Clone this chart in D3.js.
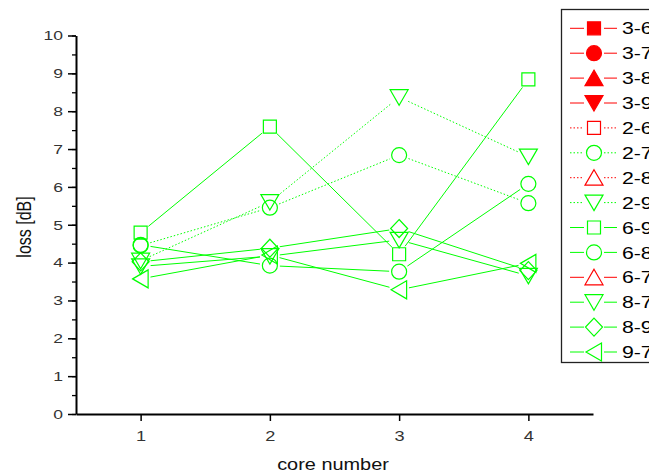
<!DOCTYPE html>
<html>
<head>
<meta charset="utf-8">
<script src="https://cdn.jsdelivr.net/npm/d3@7"></script>
<style>
  body { margin: 0; background: #fff; }
  text { font-family: "Liberation Sans", Arial, sans-serif; }
</style>
</head>
<body>
<svg id="chart" width="649" height="474"></svg>
<script>
// core numbers on the x axis
var cores = [1, 2, 3, 4];

// loss [dB] per series (red series have no points on the plot)
var loss36 = [];
var loss37 = [];
var loss38 = [];
var loss39 = [];
var loss26 = [];
var loss27 = [4.45, 5.45, 6.84, 5.57];
var loss28 = [];
var loss29 = [4.05, 5.6, 8.37, 6.8];
var loss69 = [4.79, 7.59, 4.22, 8.84];
var loss68 = [4.47, 3.92, 3.76, 6.08];
var loss67 = [];
var loss87 = [3.9, 4.17, 4.6, 3.65];
var loss89 = [4.02, 4.38, 4.9, 3.79];
var loss97 = [3.57, 4.2, 3.28, 3.98];

var seriesNames = ["3-6", "3-7", "3-8", "3-9", "2-6", "2-7", "2-8", "2-9", "6-9", "6-8", "6-7", "8-7", "8-9", "9-7"];
var seriesValues = [loss36, loss37, loss38, loss39, loss26, loss27, loss28, loss29, loss69, loss68, loss67, loss87, loss89, loss97];
var seriesColor = ["red", "red", "red", "red", "red", "green", "red", "green", "green", "green", "red", "green", "green", "green"];
var seriesShape = ["square", "circle", "up", "down", "square", "circle", "up", "down", "square", "circle", "up", "down", "diamond", "left"];
var seriesFilled = [true, true, true, true, false, false, false, false, false, false, false, false, false, false];
var seriesDotted = [false, false, false, false, true, true, true, true, false, false, false, false, false, false];

var yTicks = [0, 1, 2, 3, 4, 5, 6, 7, 8, 9, 10];

var colors = { red: "#ff0000", green: "#00ff00" };

var series = seriesNames.map(function(name, i) {
  return {
    name: name,
    points: seriesValues[i].map(function(v, j) { return { core: cores[j], loss: v }; }),
    color: colors[seriesColor[i]],
    shape: seriesShape[i],
    filled: seriesFilled[i],
    dotted: seriesDotted[i]
  };
});

var svg = d3.select("#chart");

var x = d3.scaleLinear().domain([0.5, 4.5]).range([76, 593]);
var y = d3.scaleLinear().domain([0, 10]).range([414, 35.5]);

// the source picture is a bit wider than tall, so text gets stretched sideways
function stretch(sel, k, x0) {
  sel.attr("transform", `scale(${k},1)`).attr("x", x0 / k);
}

// marker outlines, centred on 0,0
function markerPath(shape) {
  switch (shape) {
    case "square": return "M-6.5,-6.5h13v13h-13z";
    case "circle": return "M7.5,0A7.5,7.5 0 1,1 -7.5,0A7.5,7.5 0 1,1 7.5,0z";
    case "up": return "M0,-8L9,7.5L-9,7.5z";
    case "down": return "M0,8L9,-7.5L-9,-7.5z";
    case "diamond": return "M0,-9L8.5,0L0,9L-8.5,0z";
    case "left": return "M-8,0L7.5,-9L7.5,9z";
  }
}

// y axis: minor then major ticks
var minorTicks = d3.range(0, 10.01, 0.5);
svg.append("g")
  .attr("transform", "translate(76,0)")
  .call(d3.axisLeft(y).tickValues(minorTicks).tickSize(4).tickSizeOuter(0).tickFormat(""))
  .call(g => g.select(".domain").remove())
  .call(g => g.selectAll("line").attr("stroke", "#000").attr("stroke-width", 1.3));

var yAxis = svg.append("g")
  .attr("transform", "translate(76,0)")
  .call(d3.axisLeft(y).tickValues(yTicks).tickSize(8).tickSizeOuter(0).tickPadding(5));
yAxis.select(".domain").attr("stroke", "#000").attr("stroke-width", 2);
yAxis.selectAll("line").attr("stroke", "#000").attr("stroke-width", 1.5);
yAxis.selectAll("text")
  .attr("font-size", 13.5).attr("fill", "#333")
  .style("font-family", "'Liberation Sans', Arial, sans-serif")
  .call(stretch, 1.3, -13);

var xAxis = svg.append("g")
  .attr("transform", "translate(0,414)")
  .call(d3.axisBottom(x).tickValues(cores).tickSize(7).tickSizeOuter(0).tickPadding(10).tickFormat(d3.format("d")));
xAxis.select(".domain").attr("stroke", "#000").attr("stroke-width", 2);
xAxis.selectAll("line").attr("stroke", "#000").attr("stroke-width", 1.5);
xAxis.selectAll("text")
  .attr("font-size", 14).attr("fill", "#333")
  .style("font-family", "'Liberation Sans', Arial, sans-serif")
  .call(stretch, 1.3, 0);

// axis titles
svg.append("text")
  .attr("y", 470)
  .attr("text-anchor", "middle")
  .attr("font-size", 17)
  .attr("fill", "#111")
  .text("core number")
  .call(stretch, 1.17, 333);

svg.append("text")
  .attr("transform", "translate(31,227) rotate(-90) scale(1,1.25)")
  .attr("text-anchor", "middle")
  .attr("font-size", 16)
  .attr("fill", "#111")
  .text("loss [dB]");

// lines stop short of the markers, like Origin does
var gap = 10;
var plot = svg.append("g");

series.forEach(function(s) {
  var segs = d3.pairs(s.points).map(function(p) {
    var x0 = x(p[0].core), y0 = y(p[0].loss), x1 = x(p[1].core), y1 = y(p[1].loss);
    var len = Math.hypot(x1 - x0, y1 - y0);
    var ux = (x1 - x0) / len, uy = (y1 - y0) / len;
    return [x0 + ux * gap, y0 + uy * gap, x1 - ux * gap, y1 - uy * gap];
  });

  plot.append("g").selectAll("line")
    .data(segs)
    .enter()
    .append("line")
      .attr("x1", d => d[0]).attr("y1", d => d[1])
      .attr("x2", d => d[2]).attr("y2", d => d[3])
      .attr("stroke", s.color)
      .attr("stroke-width", 1)
      .attr("stroke-dasharray", s.dotted ? "1.5,2" : null);

  plot.append("g").selectAll("path")
    .data(s.points)
    .enter()
    .append("path")
      .attr("d", markerPath(s.shape))
      .attr("transform", d => `translate(${x(d.core)},${y(d.loss)})`)
      .attr("fill", s.filled ? s.color : "none")
      .attr("stroke", s.color)
      .attr("stroke-width", 1.2);
});

// legend
var legend = svg.append("g");
legend.append("rect")
  .attr("x", 561.5)
  .attr("y", 9.5)
  .attr("width", 120)
  .attr("height", 353)
  .attr("fill", "#fff")
  .attr("stroke", "#222")
  .attr("stroke-width", 1.3);

var rows = legend.selectAll("g.row")
  .data(series)
  .enter()
  .append("g")
    .attr("class", "row")
    .attr("transform", (d, i) => `translate(594,${28.3 + i * 24.9})`);

rows.append("line")
  .attr("x1", -24).attr("x2", -10)
  .attr("stroke", d => d.color)
  .attr("stroke-dasharray", d => d.dotted ? "1.5,2" : null);
rows.append("line")
  .attr("x1", 10).attr("x2", 23)
  .attr("stroke", d => d.color)
  .attr("stroke-dasharray", d => d.dotted ? "1.5,2" : null);
rows.append("path")
  .attr("d", d => markerPath(d.shape))
  .attr("fill", d => d.filled ? d.color : "none")
  .attr("stroke", d => d.color)
  .attr("stroke-width", 1.2);
rows.append("text")
  .attr("dy", "0.36em")
  .attr("font-size", 17)
  .attr("fill", "#000")
  .text(d => d.name)
  .call(stretch, 1.25, 28);
</script>
</body>
</html>
